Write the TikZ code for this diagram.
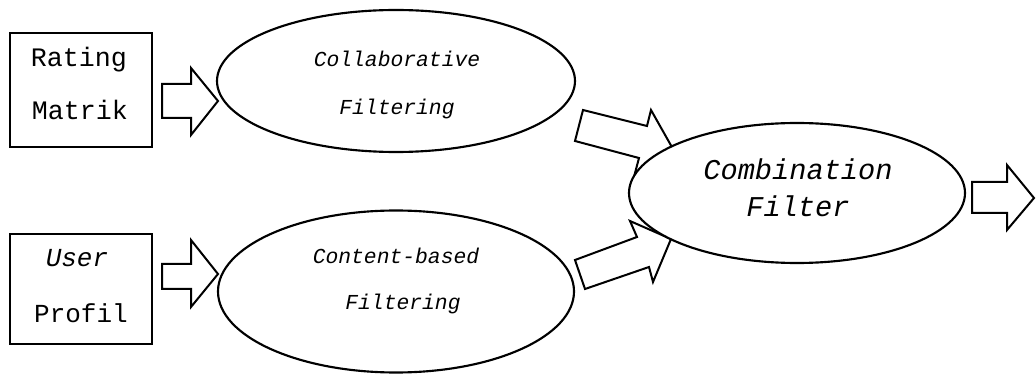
\documentclass[tikz,border=0pt]{standalone}
\usepackage{fontspec}
\setmainfont{Liberation Mono}
\usetikzlibrary{shapes.geometric}
\begin{document}
\begin{tikzpicture}[x=0.75pt,y=-0.75pt,
  line join=miter,
  shapeline/.style={draw=black,line width=1.6pt,fill=white},
  boxnode/.style={shapeline,rectangle,inner sep=0pt},
  ellnode/.style={shapeline,ellipse,inner sep=0pt},
  blockarrow/.style={draw=black,line width=1.5pt,fill=white},
  txt/.style={anchor=base,inner sep=0pt},
  bigtxt/.style={txt,font=\fontsize{20}{24}\selectfont},
  midtxt/.style={txt,font=\fontsize{16}{19}\selectfont\itshape},
  combtxt/.style={txt,font=\fontsize{21.5}{26}\selectfont\itshape}]
\useasboundingbox (0,0) rectangle (1036,374);

% block arrows (drawn first so the ellipses cover their tips)
\draw[blockarrow] (162,84) -- (191,84) -- (191,68) -- (218,101) -- (191,135) -- (191,118) -- (162,118) -- cycle;
\draw[blockarrow] (162,264) -- (191,264) -- (191,240) -- (218,274) -- (191,307) -- (191,289) -- (162,289) -- cycle;
\draw[blockarrow] (583,110) -- (647,126) -- (651,110) -- (673,149) -- (635,173) -- (639,158) -- (575,141) -- cycle;
\draw[blockarrow] (575,260) -- (637,237) -- (630,221) -- (671,239) -- (653,282) -- (649,267) -- (585,289) -- cycle;
\draw[blockarrow] (972,182) -- (1007,182) -- (1007,165) -- (1034,198) -- (1007,230) -- (1007,213) -- (972,213) -- cycle;

% boxes
\node[boxnode,minimum width=142*0.75pt,minimum height=114*0.75pt] (rm) at (81,90) {};
\node[boxnode,minimum width=142*0.75pt,minimum height=110*0.75pt] (up) at (81,289) {};

% ellipses
\node[ellnode,minimum width=358*0.75pt,minimum height=142*0.75pt] (cf) at (396,81) {};
\node[ellnode,minimum width=356*0.75pt,minimum height=162*0.75pt] (cb) at (396,291.5) {};
\node[ellnode,minimum width=336*0.75pt,minimum height=140*0.75pt] (comb) at (797,193) {};

% texts
\node[bigtxt] (rm1) at (79,67) {Rating};
\node[bigtxt] (rm2) at (80,120) {Matrik};
\node[bigtxt,font=\fontsize{19.5}{24}\selectfont\itshape] (up1) at (77,267) {User};
\node[bigtxt,font=\fontsize{19.5}{24}\selectfont] (up2) at (81,322) {Profil};
\node[midtxt] (cf1) at (397,67) {Collaborative};
\node[midtxt] (cf2) at (397,115) {Filtering};
\node[midtxt] (cb1) at (396,263) {Content-based};
\node[midtxt] (cb2) at (403,310) {Filtering};
\node[combtxt] (cm1) at (798,180) {Combination};
\node[combtxt] (cm2) at (798,217) {Filter};
\end{tikzpicture}
\end{document}
